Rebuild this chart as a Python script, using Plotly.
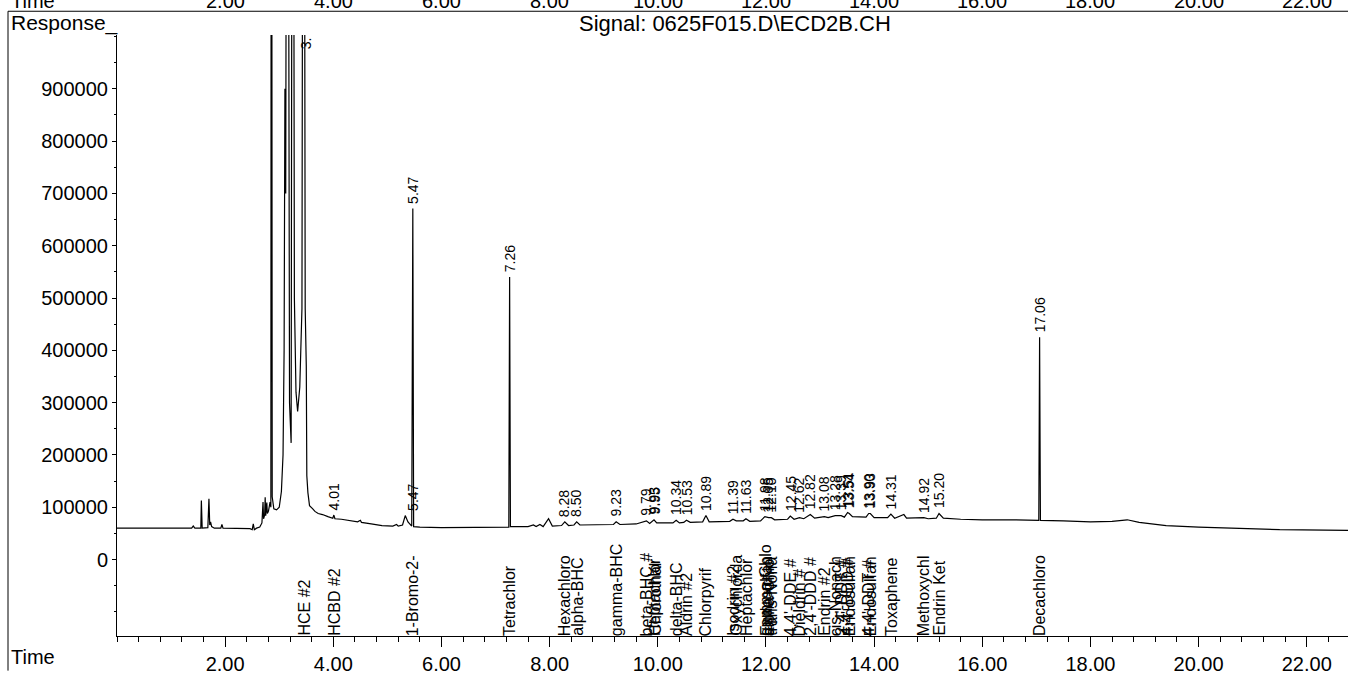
import plotly.graph_objects as go

# ---------------- data ----------------
trace_time = [0.00, 1.38, 1.41, 1.44, 1.55, 1.56, 1.575, 1.68, 1.70, 1.715, 1.73, 1.75, 1.80,
              1.92, 1.94, 1.96, 2.46, 2.50, 2.52, 2.54, 2.58, 2.64, 2.68, 2.70, 2.71, 2.73,
              2.74, 2.75, 2.77, 2.78, 2.80, 2.83, 2.845, 2.855, 2.87, 2.90, 2.95, 3.00, 3.04,
              3.07, 3.09, 3.105, 3.12, 3.15, 3.19, 3.22, 3.25, 3.28, 3.31, 3.34, 3.38, 3.42,
              3.45, 3.48, 3.50, 3.51, 3.53, 3.56, 3.62, 3.66, 3.72, 3.80, 3.90, 3.99, 4.01,
              4.03, 4.15, 4.30, 4.45, 4.50, 4.52, 4.70, 4.90, 5.10, 5.17, 5.20, 5.28, 5.33,
              5.38, 5.45, 5.47, 5.485, 5.60, 6.00, 6.50, 6.90, 7.245, 7.26, 7.275, 7.60, 7.70,
              7.75, 7.82, 7.88, 7.98, 8.05, 8.22, 8.28, 8.35, 8.45, 8.50, 8.56, 9.00, 9.18,
              9.23, 9.30, 9.60, 9.79, 9.85, 9.93, 9.98, 10.28, 10.34, 10.40, 10.48, 10.53,
              10.60, 10.83, 10.89, 10.95, 11.33, 11.39, 11.45, 11.58, 11.63, 11.70, 11.90,
              11.98, 12.05, 12.10, 12.16, 12.40, 12.45, 12.52, 12.62, 12.70, 12.82, 12.90,
              13.08, 13.15, 13.28, 13.39, 13.45, 13.51, 13.54, 13.60, 13.85, 13.90, 13.93,
              14.00, 14.25, 14.31, 14.38, 14.55, 14.60, 14.92, 15.00, 15.15, 15.20, 15.28,
              15.60, 16.00, 16.60, 17.00, 17.045, 17.06, 17.075, 17.50, 18.00, 18.40, 18.68,
              18.90, 19.40, 20.00, 20.60, 21.50, 22.77]
trace_resp = [60000, 60000, 64000, 60000, 60000, 113000, 60000, 61000, 116000, 66000, 72000, 63000, 60000,
              60000, 67000, 60000, 59000, 57000, 68000, 57000, 60000, 62000, 70000, 110000, 78000, 85000,
              119000, 84000, 109000, 88000, 92000, 110000, 100000, 2500000, 120000, 97000, 95000, 100000, 130000,
              200000, 400000, 900000, 700000, 2500000, 300000, 223000, 2500000, 500000, 320000, 283000, 330000, 480000,
              2500000, 480000, 370000, 160000, 128000, 103000, 97000, 92000, 88000, 86000, 82000, 79000, 85000,
              78000, 77000, 75000, 72000, 75000, 71000, 68000, 65000, 64000, 67000, 64000, 66000, 84000,
              72000, 64000, 671000, 63000, 62000, 61000, 61000, 62000, 62000, 540000, 63000, 63000, 66000,
              63000, 67000, 63000, 78000, 64000, 65000, 72000, 65000, 66000, 72000, 66000, 66000, 67000,
              72000, 67000, 68000, 74000, 69000, 76000, 70000, 70000, 75000, 70000, 71000, 75000,
              71000, 72000, 84000, 72000, 73000, 77000, 74000, 74000, 78000, 73000, 74000,
              82000, 80000, 80000, 76000, 77000, 83000, 77000, 80000, 78000, 86000, 79000,
              82000, 80000, 84000, 84000, 81000, 90000, 88000, 82000, 81000, 88000, 88000,
              80000, 80000, 87000, 79000, 86000, 79000, 80000, 78000, 79000, 88000, 79000,
              77000, 76000, 76000, 75000, 75000, 425000, 75000, 74000, 72000, 73000, 76000,
              71000, 65000, 62000, 60000, 57000, 55800]

# retention-time labels above peaks
peak_rt = [4.01, 5.47, 5.47, 7.26, 8.28, 8.50, 9.23, 9.79, 9.93, 9.95, 10.34, 10.53, 10.89,
           11.39, 11.63, 11.98, 12.05, 12.10, 12.45, 12.62, 12.82, 13.08, 13.28, 13.39, 13.51,
           13.54, 13.90, 13.93, 14.31, 14.92, 15.20, 17.06]
peak_text = ["4.01", "5.47", "5.47", "7.26", "8.28", "8.50", "9.23", "9.79", "9.93", "9.95", "10.34",
             "10.53", "10.89", "11.39", "11.63", "11.98", "12.05", "12.10", "12.45", "12.62", "12.82",
             "13.08", "13.28", "13.39", "13.51", "13.54", "13.90", "13.93", "14.31", "14.92", "15.20",
             "17.06"]
peak_top = [85000, 671000, 84000, 540000, 72000, 72000, 72000, 74000, 76000, 76000, 75000, 75000,
            84000, 77000, 78000, 82000, 80000, 80000, 83000, 80000, 86000, 82000, 84000, 84000,
            90000, 88000, 88000, 88000, 87000, 80000, 88000, 425000]

# compound names along the time axis
cmpd_rt = [3.45, 4.01, 5.47, 7.26, 8.28, 8.50, 9.23, 9.79, 9.93, 9.95, 10.34, 10.53, 10.89,
           11.39, 11.45, 11.63, 11.98, 12.00, 12.05, 12.10, 12.45, 12.62, 12.82, 13.08, 13.28,
           13.39, 13.51, 13.54, 13.90, 13.93, 14.31, 14.92, 15.20, 17.06]
cmpd_name = ["HCE #2", "HCBD #2", "1-Bromo-2-", "Tetrachlor", "Hexachloro", "alpha-BHC",
             "gamma-BHC", "beta-BHC #", "Heptachlor", "Chlorothal", "delta-BHC", "Aldrin #2",
             "Chlorpyrif", "Isodrin #2", "Oxychlorda", "Heptachlor", "gamma-Chlo", "Endosulfan",
             "alpha-Chlo", "trans-Nona", "4,4'-DDE #", "Dieldrin #", "2,4'-DDD #", "Endrin #2",
             "cis-Nonach", "2,4'-DDT #", "4,4'-DDD #", "Endosulfan", "4,4'-DDT #", "Endosulfan",
             "Toxaphene", "Methoxychl", "Endrin Ket", "Decachloro"]

x_ticks = [2, 4, 6, 8, 10, 12, 14, 16, 18, 20, 22]
x_ticktext = ["2.00", "4.00", "6.00", "8.00", "10.00", "12.00", "14.00", "16.00", "18.00", "20.00", "22.00"]
y_ticks = [0, 100000, 200000, 300000, 400000, 500000, 600000, 700000, 800000, 900000]
y_ticktext = ["0", "100000", "200000", "300000", "400000", "500000", "600000", "700000", "800000", "900000"]

title_left = "Response_"
title_signal = "Signal: 0625F015.D\\ECD2B.CH"
axis_name = "Time"

# ---------------- figure ----------------
FONT = "Liberation Sans, Arial, Helvetica, sans-serif"
W, H = 1348, 675
ML, MR, MT, MB = 117, 0, 35, 33
plot_w = W - ML - MR
plot_h = H - MT - MB

fig = go.Figure()
fig.add_trace(go.Scatter(x=trace_time, y=trace_resp, mode="lines",
                         line=dict(color="black", width=1.2), hoverinfo="skip",
                         showlegend=False, cliponaxis=True))

ann = []
for t, txt, top in zip(peak_rt, peak_text, peak_top):
    ann.append(dict(x=t, y=top, xref="x", yref="y", text=txt, showarrow=False,
                    textangle=-90, xanchor="center", yanchor="bottom", yshift=3,
                    font=dict(family=FONT, size=14, color="black")))
# truncated label of the off-scale solvent peak
ann.append(dict(x=3.50, y=1002840, xref="x", yref="y", text="3.", showarrow=False,
                textangle=-90, xanchor="center", yanchor="top",
                font=dict(family=FONT, size=14, color="black")))
for t, name in zip(cmpd_rt, cmpd_name):
    ann.append(dict(x=t, y=-146200, xref="x", yref="y", text=name, showarrow=False,
                    textangle=-90, xanchor="center", yanchor="bottom", yshift=-2,
                    font=dict(family=FONT, size=16, color="black")))

def px_to_paper_x(px):
    return (px - ML) / plot_w

def px_to_paper_y(py):
    return 1 - (py - MT) / plot_h

ann.append(dict(x=px_to_paper_x(9), y=px_to_paper_y(23), xref="paper", yref="paper",
                text=title_left, showarrow=False, xanchor="left", yanchor="middle",
                font=dict(family=FONT, size=21, color="black")))
ann.append(dict(x=px_to_paper_x(735), y=px_to_paper_y(23), xref="paper", yref="paper",
                text=title_signal, showarrow=False, xanchor="center", yanchor="middle",
                font=dict(family=FONT, size=22, color="black")))
ann.append(dict(x=px_to_paper_x(9), y=px_to_paper_y(663), xref="paper", yref="paper",
                text=axis_name, showarrow=False, xanchor="left", yanchor="middle",
                font=dict(family=FONT, size=20, color="black")))
# remnant of the previous panel's time axis at the very top (cut off by the page)
ann.append(dict(x=px_to_paper_x(9), y=px_to_paper_y(1), xref="paper", yref="paper",
                text=axis_name, showarrow=False, xanchor="left", yanchor="middle",
                font=dict(family=FONT, size=20, color="black")))
for v, txt in zip(x_ticks, x_ticktext):
    ann.append(dict(x=v, y=px_to_paper_y(1), xref="x", yref="paper", text=txt,
                    showarrow=False, xanchor="center", yanchor="middle",
                    font=dict(family=FONT, size=20, color="black")))

shapes = [
    dict(type="line", xref="paper", yref="paper", x0=px_to_paper_x(8), x1=px_to_paper_x(W),
         y0=px_to_paper_y(11), y1=px_to_paper_y(11), line=dict(color="black", width=1.2)),
    dict(type="line", xref="paper", yref="paper", x0=px_to_paper_x(8), x1=px_to_paper_x(8),
         y0=px_to_paper_y(11), y1=px_to_paper_y(H + 2), line=dict(color="black", width=1)),
]

fig.update_layout(
    width=W, height=H, margin=dict(l=ML, r=MR, t=MT, b=MB),
    paper_bgcolor="white", plot_bgcolor="white",
    annotations=ann, shapes=shapes, showlegend=False,
    xaxis=dict(range=[0, plot_w / 54.08], tickvals=x_ticks, ticktext=x_ticktext,
               showline=True, linecolor="black", linewidth=1, showgrid=False, zeroline=False,
               ticks="outside", ticklen=10, tickwidth=1, tickcolor="black",
               tickfont=dict(family=FONT, size=20, color="black"),
               minor=dict(tick0=0, dtick=0.4, ticks="outside", ticklen=5, tickcolor="black",
                          showgrid=False)),
    yaxis=dict(range=[-146200, 1002840], tickvals=y_ticks, ticktext=y_ticktext,
               showline=True, linecolor="black", linewidth=1, showgrid=False, zeroline=False,
               ticks="outside", ticklen=4, tickwidth=1, tickcolor="black",
               tickfont=dict(family=FONT, size=20, color="black"),
               minor=dict(tick0=0, dtick=50000, ticks="outside", ticklen=2, tickcolor="black",
                          showgrid=False)),
)

fig.write_html("out.html")
